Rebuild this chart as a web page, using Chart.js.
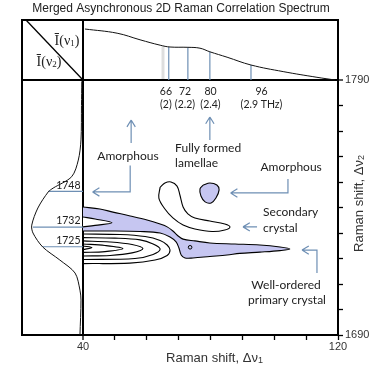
<!DOCTYPE html>
<html>
<head>
<meta charset="utf-8">
<script src="https://cdn.jsdelivr.net/npm/chart.js@4.4.1/dist/chart.umd.min.js"></script>
<style>
  html, body { margin: 0; padding: 0; background: #fff; }
  #chart { display: block; }
</style>
</head>
<body>
<canvas id="chart" width="375" height="371"></canvas>
<script>
'use strict';

// Mean spectrum along Δν1 (top panel), intensity 0..1
const topShift = [40.6, 50.7, 57.9, 64.2, 67.3, 72.9, 76.7, 79.8, 85.2, 92.7, 102.8, 113.4, 119.1];
const topIntensity = [0.85, 0.78, 0.67, 0.58, 0.55, 0.545, 0.53, 0.47, 0.38, 0.25, 0.14, 0.045, 0];

// Mean spectrum along Δν2 (left panel)
const leftShift = [1789.5, 1780, 1766.5, 1758.6, 1752.1, 1747.6, 1746.1, 1739.8, 1733.1, 1730, 1724.5, 1719.4, 1714.3, 1707.6, 1703.7, 1690];
const leftIntensity = [0.02, 0.025, 0.033, 0.077, 0.185, 0.49, 0.57, 0.74, 0.84, 0.82, 0.66, 0.38, 0.13, 0.05, 0.033, 0.05];

// Marked bands on the top spectrum
const peakShift = [66.9, 72.9, 79.8, 92.7];
const peakHeight = [0.55, 0.545, 0.47, 0.25];
const peakLabels = ['66', '72', '80', '96'];
const peakTHz = ['(2)', '(2.2)', '(2.4)', '(2.9 THz)'];

// Marked bands on the left spectrum
const bandShift = [1746.3, 1732.3, 1724.6];
const bandHeight = [0.57, 0.82, 0.66];
const bandLabels = ['1748', '1732', '1725'];

// Tick values of the main map
const xTicks = [40, 50, 60, 70, 80, 90, 100, 110, 120];
const yTicks = [1690, 1700, 1710, 1720, 1730, 1740, 1750, 1760, 1770, 1780, 1790];

// Contours [Δν1, Δν2]
const negMain = [[40, 1740.2], [45.3, 1739.4], [49.4, 1738.2], [54.8, 1736.7], [60.1, 1735.1], [64.2, 1733.5],
  [66.4, 1732.4], [68.2, 1730.8], [69.5, 1729.2], [71.4, 1727.6], [75.1, 1726.9], [79.8, 1726.1],
  [87.7, 1725.7], [95.5, 1725.3], [101.8, 1724.5], [104.9, 1723.7], [101.8, 1723.1], [95.5, 1722.5],
  [89.2, 1722], [85.2, 1721.4], [79.8, 1720.8], [74.5, 1720.2], [72, 1720.2], [70.8, 1721.4],
  [70.1, 1724.1], [69.2, 1726.5], [67.3, 1728.4], [64.2, 1730], [57.9, 1730.6], [48.5, 1730.8], [40, 1730.8]];
const wedge1732 = [[40, 1736.3], [43.8, 1735.5], [49.1, 1734], [43.8, 1733], [40, 1732.4]];
const negBlob = [[77.7, 1748.8], [79.8, 1749.6], [82, 1748.8], [82.7, 1746.9], [81.7, 1743.7], [80.2, 1741.8],
  [78.3, 1742.2], [77, 1744.5], [76.7, 1747.3], [77.7, 1748.8]];
const posLamellae = [[64.2, 1748], [65.7, 1749.6], [67.6, 1750], [69.5, 1748.4], [70.4, 1744.9], [71.4, 1740.2],
  [72.9, 1737.5], [75.1, 1735.9], [79.8, 1734.7], [84.5, 1733.5], [86.1, 1732.4], [84.5, 1731.2],
  [80.5, 1730.6], [75.1, 1731.6], [71.4, 1733.1], [68.2, 1735.9], [65.7, 1739.4], [63.8, 1743.7], [64.2, 1748]];
const pos1 = [[40, 1729.6], [51.6, 1729.4], [59.5, 1728.6], [64.2, 1727.1], [66.4, 1725.3], [67.3, 1723.3],
  [66.4, 1721.2], [62.6, 1719.4], [54.7, 1718.2], [40, 1718]];
const pos2 = [[40, 1728.2], [50, 1728], [57.9, 1727.3], [62, 1725.7], [64.2, 1723.7], [62, 1721.6], [56.3, 1720], [40, 1719.6]];
const pos3 = [[40, 1726.9], [48.5, 1726.5], [55.4, 1725.5], [58.8, 1723.9], [55.4, 1722.2], [48.5, 1721.2], [40, 1721]];
const pos4 = [[40, 1725.7], [46.9, 1725.1], [52.5, 1723.9], [46.9, 1722.7], [40, 1722.4]];
const pos5 = [[40, 1724.9], [42.8, 1724.3], [40, 1723.5]];
const dot = [[73.6, 1724.4]];

const lilac = '#c6c6f1';
const steel = '#6e8fb4';
const annoFont = 'Lato, "Open Sans", sans-serif';

const toPoints = pairs => pairs.map(([x, y]) => ({x, y}));

function contour(pairs, fillColor, order) {
  return {
    data: toPoints(pairs),
    showLine: true,
    borderColor: '#000',
    borderWidth: 1.1,
    backgroundColor: fillColor || 'transparent',
    fill: fillColor ? 'shape' : false,
    tension: 0.35,
    pointRadius: 0,
    order: order
  };
}

const datasets = [
  contour(negMain, lilac, 6),
  contour(wedge1732, '#fff', 5),
  contour(negBlob, lilac, 6),
  contour(posLamellae, null, 4),
  contour(pos1, null, 4),
  contour(pos2, null, 4),
  contour(pos3, null, 4),
  contour(pos4, null, 4),
  contour(pos5, null, 4),
  {
    data: toPoints(dot), pointRadius: 1.8, pointBorderWidth: 1,
    pointBorderColor: '#000', pointBackgroundColor: 'transparent', order: 1
  },
  // top spectrum
  {
    data: topShift.map((v, i) => ({x: v, y: topIntensity[i]})),
    xAxisID: 'x', yAxisID: 'yTop',
    showLine: true, borderColor: '#111', borderWidth: 1, pointRadius: 0, tension: 0.4, order: 2
  },
  // faint grey band next to the 66 line
  {
    data: [{x: 65.1, y: 0}, {x: 65.1, y: 0.56}],
    xAxisID: 'x', yAxisID: 'yTop',
    showLine: true, borderColor: 'rgba(0,0,0,0.13)', borderWidth: 3, pointRadius: 0, order: 3
  },
  // left spectrum
  {
    data: leftShift.map((v, i) => ({x: leftIntensity[i], y: v})),
    xAxisID: 'xLeft', yAxisID: 'y',
    showLine: true, borderColor: '#111', borderWidth: 1, pointRadius: 0, tension: 0.3, order: 2
  }
];

peakShift.forEach((v, i) => datasets.push({
  data: [{x: v, y: 0}, {x: v, y: peakHeight[i]}],
  xAxisID: 'x', yAxisID: 'yTop',
  showLine: true, borderColor: steel, borderWidth: 1.2, pointRadius: 0, order: 3
}));

bandShift.forEach((v, i) => datasets.push({
  data: [{x: bandHeight[i], y: v}, {x: 0, y: v}],
  xAxisID: 'xLeft', yAxisID: 'y',
  showLine: true, borderColor: steel, borderWidth: 1.2, pointRadius: 0, order: 3
}));

// Text and arrows in data units of the main map
const notes = [
  {text: 'Amorphous', at: [54.1, 1760.3], align: 'center'},
  {text: 'Fully formed', at: [68.9, 1763.3], align: 'left'},
  {text: 'lamellae', at: [68.9, 1757.5], align: 'left'},
  {text: 'Amorphous', at: [105.3, 1755.9], align: 'center'},
  {text: 'Secondary', at: [96.5, 1738.2], align: 'left'},
  {text: 'crystal', at: [96.5, 1732], align: 'left'},
  {text: 'Well-ordered', at: [103.7, 1709.6], align: 'center'},
  {text: 'primary crystal', at: [104, 1703.7], align: 'center'}
];
const arrows = [
  [[55.1, 1765.3], [55.1, 1774.3]],
  [[54.8, 1756.5], [54.8, 1746.1], [43, 1746.1]],
  [[79.8, 1766.5], [79.8, 1775.5]],
  [[104.3, 1751.2], [104.3, 1745.7], [86.3, 1745.7]],
  [[94.6, 1732.4], [90.2, 1732.4]],
  [[113.4, 1714.3], [113.4, 1723.3], [108.7, 1723.3]]
];

function richText(ctx, parts, x, y, align) {
  let w = 0;
  parts.forEach(p => { ctx.font = p.font; w += ctx.measureText(p.text).width; });
  let cx = align === 'center' ? x - w / 2 : x;
  ctx.textAlign = 'left';
  ctx.textBaseline = 'middle';
  parts.forEach(p => {
    ctx.font = p.font;
    ctx.fillText(p.text, cx, y + (p.dy || 0));
    cx += ctx.measureText(p.text).width;
  });
}

function arrow(ctx, pts) {
  ctx.beginPath();
  pts.forEach(([X, Y], i) => i ? ctx.lineTo(X, Y) : ctx.moveTo(X, Y));
  const [x1, y1] = pts[pts.length - 2];
  const [x2, y2] = pts[pts.length - 1];
  const ang = Math.atan2(y2 - y1, x2 - x1);
  for (const s of [-1, 1]) {
    ctx.moveTo(x2, y2);
    ctx.lineTo(x2 - 8 * Math.cos(ang + s * 0.55), y2 - 8 * Math.sin(ang + s * 0.55));
  }
  ctx.stroke();
}

const decor = {
  id: 'decor',
  afterDraw(chart) {
    const {ctx, chartArea: a, scales} = chart;
    const {x, y, yTop, xLeft} = scales;
    const px = v => x.getPixelForValue(v);
    const py = v => y.getPixelForValue(v);
    const cx = px(40), cy = py(1790);
    ctx.save();

    // outer frame (left, top) and corner diagonal
    ctx.strokeStyle = '#000';
    ctx.lineWidth = 2;
    ctx.beginPath();
    ctx.moveTo(a.left, a.bottom);
    ctx.lineTo(a.left, a.top);
    ctx.lineTo(a.right, a.top);
    ctx.stroke();
    ctx.lineWidth = 1.3;
    ctx.beginPath();
    ctx.moveTo(a.left + 4, a.top);
    ctx.lineTo(cx, cy);
    ctx.stroke();

    // title
    ctx.fillStyle = '#222';
    ctx.font = '12px "Liberation Sans", Arial, sans-serif';
    ctx.textAlign = 'center';
    ctx.textBaseline = 'middle';
    ctx.fillText('Merged Asynchronous 2D Raman Correlation Spectrum', 181, 9);

    // corner labels
    const serif = '"Liberation Serif", "DejaVu Serif", serif';
    ctx.fillStyle = '#222';
    richText(ctx, [{text: 'Ī(ν', font: '14px ' + serif}, {text: '1', font: '9px ' + serif, dy: 3},
      {text: ')', font: '14px ' + serif}], cx - 16, a.top + 21, 'center');
    richText(ctx, [{text: 'Ī(ν', font: '14px ' + serif}, {text: '2', font: '9px ' + serif, dy: 3},
      {text: ')', font: '14px ' + serif}], cx - 34, a.top + 42, 'center');

    // axis titles
    ctx.fillStyle = '#333';
    const sans = '"Liberation Sans", Arial, sans-serif';
    richText(ctx, [{text: 'Raman shift, Δν', font: '13px ' + sans}, {text: '1', font: '9px ' + sans, dy: 3}],
      (cx + a.right) / 2 + 4, a.bottom + 23, 'center');
    ctx.save();
    ctx.translate(a.right + 21, (cy + a.bottom) / 2 - 4);
    ctx.rotate(-Math.PI / 2);
    richText(ctx, [{text: 'Raman shift, Δν', font: '13px ' + sans}, {text: '2', font: '9px ' + sans, dy: 3}],
      0, 0, 'center');
    ctx.restore();

    // band labels
    ctx.fillStyle = '#222';
    ctx.font = '10.5px ' + annoFont;
    ctx.textAlign = 'center';
    peakLabels.forEach((t, i) => {
      ctx.fillText(t, px(Number(t)), py(1785.5));
      ctx.fillText(peakTHz[i], px(Number(t)), py(1780.4));
    });
    bandLabels.forEach((t, i) => {
      ctx.textBaseline = 'bottom';
      ctx.fillText(t, xLeft.getPixelForValue(0.24), py(bandShift[i]) - 1);
    });

    // annotations
    ctx.font = '12px ' + annoFont;
    ctx.textBaseline = 'middle';
    notes.forEach(n => {
      ctx.textAlign = n.align;
      ctx.fillText(n.text, px(n.at[0]), py(n.at[1]));
    });
    ctx.strokeStyle = steel;
    ctx.lineWidth = 1.2;
    arrows.forEach(pts => arrow(ctx, pts.map(([u, v]) => [px(u), py(v)])));
    ctx.restore();
  }
};

new Chart(document.getElementById('chart'), {
  type: 'scatter',
  data: {datasets: datasets},
  options: {
    responsive: false,
    animation: false,
    layout: {padding: {left: 22, top: 20, right: 0, bottom: 0}},
    plugins: {legend: {display: false}, tooltip: {enabled: false}},
    scales: {
      x: {
        type: 'linear',
        position: 'bottom',
        min: 20.86,
        max: 120,
        afterBuildTicks: s => { s.ticks = xTicks.map(v => ({value: v})); },
        afterFit: s => { s.height = 36; },
        ticks: {
          padding: 0,
          color: '#333',
          font: {family: '"Liberation Sans", Arial, sans-serif', size: 11},
          maxRotation: 0,
          callback: v => (v === 40 || v === 120) ? String(v) : ''
        },
        grid: {
          color: c => (c.tick && c.tick.value === 40) ? '#000' : 'transparent',
          lineWidth: c => (c.tick && c.tick.value === 40) ? 2 : 1,
          tickColor: '#000',
          tickWidth: 1.3,
          tickLength: 5
        },
        border: {color: '#000', width: 2}
      },
      y: {
        type: 'linear',
        position: 'right',
        min: 1690,
        max: 1813.53,
        afterBuildTicks: s => { s.ticks = yTicks.map(v => ({value: v})); },
        afterFit: s => { s.width = 37; },
        ticks: {
          padding: 2,
          color: '#333',
          font: {family: '"Liberation Sans", Arial, sans-serif', size: 11},
          callback: v => (v === 1690 || v === 1790) ? String(v) : ''
        },
        grid: {
          color: c => (c.tick && c.tick.value === 1790) ? '#000' : 'transparent',
          lineWidth: c => (c.tick && c.tick.value === 1790) ? 2 : 1,
          tickColor: '#000',
          tickWidth: 1.3,
          tickLength: 5
        },
        border: {color: '#000', width: 2}
      },
      yTop: {type: 'linear', display: false, min: -4.25, max: 1},
      xLeft: {type: 'linear', display: false, reverse: true, min: -4.18, max: 1}
    }
  },
  plugins: [decor]
});
</script>
</body>
</html>
